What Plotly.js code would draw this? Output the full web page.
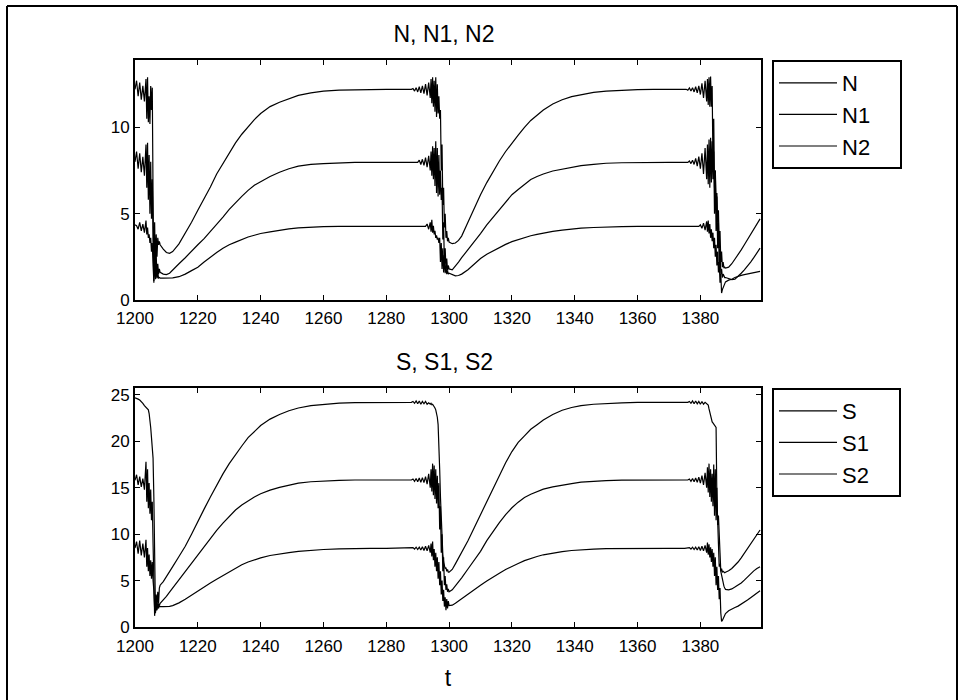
<!DOCTYPE html>
<html><head><meta charset="utf-8">
<script src="https://cdn.plot.ly/plotly-3.0.1.min.js"></script>
<style>html,body{margin:0;padding:0;background:#fff}#chart{width:969px;height:700px}</style>
</head><body><div id="chart"></div>
<script>
// time samples (shared by both panels)
const t = [
1200,1200.5,1201,1201.5,1202,1202.5,1203,1203.5,
1203.75,1204,1204.25,1204.5,1204.75,1205,1205.25,1205.5,1205.75,1206,1206.25,1206.5,1206.75,1207,1207.25,1207.5,1207.75,1208,
1209,1210,1211,1212,1214,1216,1218,1220,1222,1224,1226,1228,1230,1232,1234,1236,1238,1240,1243,1246,1249,1252,1256,1260,1265,1270,1275,1280,1285,1288,
1288.5,1289,1289.5,1290,1290.5,1291,1291.5,1292,1292.5,1293,1293.5,1294,
1294.25,1294.5,1294.75,1295,1295.25,1295.5,1295.75,1296,1296.25,1296.5,1296.75,1297,1297.25,1297.5,1297.75,1298,1298.25,1298.5,1298.75,1299,1299.25,1299.5,1299.75,1300,
1301,1302,1303,1304,1306,1308,1310,1312,1314,1316,1318,1320,1322,1324,1326,1328,1330,1333,1336,1339,1342,1346,1350,1355,1360,1365,1370,1375,
1375.5,1376,1376.5,1377,1377.5,1378,1378.5,1379,1379.5,1380,1380.5,1381,1381.5,1382,
1382.25,1382.5,1382.75,1383,1383.25,1383.5,1383.75,1384,1384.25,1384.5,1384.75,1385,1385.25,1385.5,1385.75,1386,1386.25,1386.5,1386.75,1387,1387.25,1387.5,1387.75,1388,
1389,1390,1391,1392,1393,1394,1395,1396,1397,1398,1399];

const N = [
12.2,12.7,11.8,12.6,11.6,12.4,11.5,12.8,
10.5,12.9,10.3,11.8,10.2,12.4,11.0,12.3,6.0,1.0,4.5,1.8,3.8,2.5,3.6,3.2,3.4,3.2,
2.95,2.75,2.7,2.8,3.25,3.85,4.5,5.2,5.85,6.55,7.3,7.9,8.5,9.1,9.6,10.05,10.45,10.8,11.2,11.45,11.65,11.85,12.0,12.1,12.15,12.18,12.2,12.2,12.2,12.2,
12.25,12.1,12.3,12.05,12.35,12.0,12.4,11.95,12.5,11.85,12.6,11.7,
12.8,11.4,12.9,11.2,12.7,10.9,12.9,10.6,12.5,10.8,11.8,10.5,11.0,7.5,9.0,5.5,6.5,4.2,5.0,3.6,4.0,3.4,3.6,3.35,
3.26,3.3,3.45,3.7,4.5,5.35,6.1,6.8,7.45,8.05,8.6,9.1,9.55,10.0,10.4,10.7,11.0,11.35,11.6,11.78,11.9,12.02,12.1,12.15,12.18,12.2,12.2,12.2,
12.2,12.15,12.28,12.1,12.3,12.05,12.35,12.0,12.4,11.9,12.55,11.7,12.7,11.5,
12.8,11.3,12.9,11.2,12.95,11.2,12.4,8.0,10.5,6.5,7.5,5.8,6.2,4.5,5.2,3.0,4.0,2.2,2.8,1.9,2.2,1.85,1.9,1.85,
1.9,2.1,2.35,2.6,2.9,3.2,3.5,3.85,4.15,4.45,4.7];

const N1 = [
8.0,8.6,7.6,8.5,7.4,8.3,7.2,9.0,
6.5,9.1,5.8,8.4,5.0,8.0,4.7,7.0,3.5,1.4,3.0,1.2,2.6,1.3,2.1,1.5,1.8,1.6,
1.5,1.47,1.55,1.75,2.1,2.45,2.85,3.2,3.55,3.95,4.35,4.8,5.25,5.65,6.0,6.35,6.65,6.85,7.15,7.4,7.6,7.75,7.85,7.9,7.95,7.97,7.97,7.97,7.97,7.97,
7.97,7.97,7.97,7.97,8.1,7.85,8.15,7.8,8.25,7.7,8.35,7.5,
8.6,7.2,8.9,7.0,8.8,6.6,9.2,6.2,8.8,6.0,8.4,6.1,7.5,5.8,6.5,3.5,4.5,2.0,3.0,1.8,2.4,1.7,2.0,1.8,
1.75,1.95,2.2,2.45,2.9,3.35,3.85,4.35,4.8,5.25,5.7,6.1,6.4,6.7,6.98,7.15,7.3,7.47,7.58,7.68,7.78,7.86,7.92,7.95,7.97,7.97,7.97,7.97,
7.97,7.97,8.05,7.9,8.1,7.85,8.2,7.75,8.3,7.6,8.5,7.3,8.8,7.0,
9.0,6.7,9.3,6.5,9.4,6.8,9.2,7.0,8.6,5.0,7.5,4.0,6.0,3.0,4.5,2.0,3.0,1.5,1.8,1.3,1.5,1.35,1.3,1.3,
1.22,1.18,1.2,1.35,1.55,1.75,1.95,2.2,2.45,2.72,3.0];

const N2 = [
4.35,4.3,4.1,4.5,4.0,4.4,3.9,4.6,
3.8,4.2,3.6,3.8,3.3,3.6,2.8,3.3,2.0,1.1,2.2,1.3,1.9,1.25,1.6,1.27,1.3,1.27,
1.27,1.27,1.27,1.28,1.35,1.5,1.7,1.9,2.2,2.5,2.75,3.0,3.2,3.35,3.5,3.65,3.75,3.85,3.95,4.05,4.12,4.18,4.22,4.25,4.26,4.26,4.26,4.26,4.26,4.26,
4.26,4.26,4.26,4.26,4.26,4.26,4.26,4.26,4.26,4.4,4.1,4.5,
3.95,4.65,3.9,4.3,3.8,4.0,3.6,3.75,3.5,3.6,3.3,3.6,2.2,3.3,1.8,3.0,1.6,2.6,1.55,2.0,1.5,1.7,1.5,1.55,
1.45,1.4,1.42,1.5,1.75,2.1,2.4,2.65,2.85,3.05,3.22,3.38,3.5,3.62,3.72,3.8,3.88,3.97,4.05,4.11,4.16,4.2,4.23,4.25,4.26,4.26,4.26,4.26,
4.26,4.26,4.26,4.26,4.26,4.26,4.26,4.26,4.26,4.35,4.15,4.45,4.05,4.55,
3.95,4.6,3.85,4.4,3.6,4.1,3.4,3.9,3.0,3.6,2.5,3.2,2.0,2.8,1.6,2.2,1.0,1.5,0.4,0.6,0.7,0.85,0.95,1.05,
1.15,1.2,1.3,1.38,1.43,1.47,1.5,1.53,1.57,1.61,1.66];

const S = [
24.7,24.65,24.55,24.45,24.3,24.1,23.85,23.65,
23.6,23.55,23.4,23.0,22.4,21.5,20.4,19.3,18.2,14.0,8.0,2.0,3.5,2.2,3.8,2.5,4.2,4.5,
4.9,5.4,6.0,6.5,7.6,8.7,10.0,11.4,12.7,14.0,15.3,16.5,17.6,18.6,19.5,20.4,21.1,21.7,22.4,22.9,23.3,23.6,23.85,24.0,24.12,24.18,24.2,24.2,24.2,24.2,
24.3,24.1,24.35,24.05,24.35,24.0,24.3,24.05,24.3,24.0,24.15,24.0,
24.1,23.95,24.0,23.9,23.8,23.6,23.4,23.1,22.6,21.8,20.0,17.0,14.0,11.5,9.0,7.8,7.0,6.7,6.3,6.4,6.0,6.2,5.9,5.9,
6.2,6.8,7.4,8.0,9.3,10.7,12.1,13.5,14.9,16.4,17.7,18.9,19.9,20.6,21.3,21.8,22.3,22.9,23.35,23.65,23.85,24.0,24.1,24.15,24.2,24.2,24.2,24.2,
24.2,24.2,24.3,24.1,24.35,24.05,24.35,24.05,24.3,24.0,24.3,24.0,24.2,24.0,
24.0,23.9,23.5,23.1,22.6,22.3,22.1,22.0,21.9,21.8,21.7,21.5,14.0,11.0,8.0,6.5,6.8,6.0,6.3,5.9,6.0,5.85,5.85,5.9,
6.05,6.3,6.6,7.0,7.45,7.95,8.5,9.05,9.55,10.0,10.45];

const S1 = [
15.8,16.4,15.3,16.2,15.1,16.0,14.8,17.8,
13.5,17.0,12.8,15.5,12.2,14.8,11.5,13.5,9.0,5.0,1.2,3.0,1.8,2.6,2.0,2.5,2.3,2.55,
2.9,3.3,3.75,4.2,5.1,5.95,6.8,7.7,8.6,9.5,10.4,11.2,11.95,12.6,13.15,13.6,14.0,14.35,14.75,15.05,15.3,15.5,15.65,15.75,15.8,15.84,15.84,15.84,15.84,15.84,
15.95,15.7,16.0,15.65,16.05,15.6,16.1,15.55,16.2,15.4,16.5,15.0,
17.0,14.6,17.6,14.2,17.4,13.8,17.0,13.3,16.3,12.8,15.5,10.5,13.0,8.0,10.0,6.0,7.5,4.5,5.5,4.0,4.6,3.8,4.1,3.8,
4.0,4.4,4.85,5.3,6.25,7.2,8.15,9.3,10.3,11.25,12.1,12.85,13.45,13.95,14.3,14.6,14.85,15.1,15.3,15.45,15.6,15.7,15.77,15.82,15.84,15.84,15.84,15.84,
15.84,15.84,15.95,15.7,16.0,15.65,16.05,15.6,16.15,15.5,16.3,15.3,16.6,15.0,
17.2,14.5,17.6,14.0,17.0,13.5,16.5,13.0,17.5,12.0,17.0,11.5,15.0,11.0,12.0,9.0,8.0,6.0,5.5,5.0,4.6,4.4,4.2,4.05,
4.0,4.1,4.3,4.5,4.75,5.05,5.4,5.75,6.05,6.3,6.5];

const S2 = [
8.5,9.2,7.9,9.3,7.7,9.0,7.5,9.4,
6.5,8.5,6.0,7.8,5.5,7.2,5.2,7.0,5.0,4.0,2.0,1.5,2.3,1.8,2.5,2.0,2.3,2.2,
2.2,2.2,2.22,2.3,2.6,3.0,3.45,3.9,4.35,4.75,5.15,5.55,5.95,6.35,6.7,7.0,7.25,7.45,7.7,7.88,8.02,8.15,8.27,8.35,8.42,8.48,8.48,8.48,8.48,8.48,
8.55,8.4,8.6,8.35,8.6,8.3,8.65,8.25,8.7,8.2,8.8,8.0,
9.0,7.6,9.2,7.2,8.4,6.5,8.0,6.0,7.5,5.2,7.0,4.5,6.0,3.5,5.0,2.8,4.0,2.2,3.2,1.8,3.0,2.0,2.8,2.3,
2.35,2.55,2.8,3.05,3.55,4.05,4.5,4.95,5.4,5.8,6.2,6.55,6.85,7.15,7.4,7.6,7.78,7.97,8.12,8.24,8.32,8.4,8.44,8.47,8.48,8.48,8.48,8.48,
8.48,8.48,8.55,8.4,8.6,8.35,8.6,8.3,8.65,8.25,8.7,8.2,8.8,8.0,
9.1,7.8,8.9,7.5,8.6,7.0,8.4,6.5,8.0,5.5,7.5,4.5,6.5,4.0,5.5,3.0,4.2,1.5,0.6,0.7,0.9,1.1,1.3,1.45,
1.75,1.95,2.1,2.25,2.45,2.65,2.9,3.15,3.4,3.65,3.9];

const xTicks = [1200,1220,1240,1260,1280,1300,1320,1340,1360,1380];
const yTicksN = [0,5,10];
const yTicksS = [0,5,10,15,20,25];
const namesN = ['N','N1','N2'];
const namesS = ['S','S1','S2'];
const titleN = 'N, N1, N2';
const titleS = 'S, S1, S2';
const xLabel = 't';

[N,N1,N2,S,S1,S2].forEach((a,i)=>{ if(a.length!==t.length) throw new Error('length mismatch series '+i+': '+a.length+' vs '+t.length); });

const W = 969, H = 700;
const px = v => v / W, py = v => 1 - v / H;
const FONT = 'Liberation Sans, Arial, Helvetica, sans-serif';
const lineStyle = {color:'#000', width:1.2};
const PAD = '\u00a0\u00a0\u00a0\u00a0'; // widens the legend box like the reference

const traces = [];
[N,N1,N2].forEach((y,i)=>traces.push({x:t, y:y, name:namesN[i] + PAD, type:'scatter', mode:'lines', line:lineStyle, xaxis:'x', yaxis:'y', legend:'legend'}));
[S,S1,S2].forEach((y,i)=>traces.push({x:t, y:y, name:namesS[i] + PAD, type:'scatter', mode:'lines', line:lineStyle, xaxis:'x2', yaxis:'y2', legend:'legend2'}));

const axBase = {
  showgrid:false, zeroline:false, showline:true, linecolor:'#000', linewidth:2,
  mirror:'ticks', ticks:'inside', ticklen:5, tickwidth:1, tickcolor:'#000',
  tickfont:{family:FONT, size:17, color:'#000'}, fixedrange:true
};
const xdom = [px(135), px(761)];

const legBase = {
  bgcolor:'#fff', bordercolor:'#000', borderwidth:2,
  font:{family:FONT, size:22, color:'#000'},
  xanchor:'left', yanchor:'top', itemwidth:58, traceorder:'normal'
};

const layout = {
  width:W, height:H, margin:{l:0,r:0,t:0,b:0},
  paper_bgcolor:'#fff', plot_bgcolor:'#fff', showlegend:true,
  font:{family:FONT, color:'#000'},
  title:{text:titleN, x:px(444), y:py(33.5), xanchor:'center', yanchor:'middle', xref:'paper', yref:'paper', font:{family:FONT, size:23, color:'#000'}},
  xaxis:Object.assign({}, axBase, {domain:xdom, anchor:'y', range:[1200,1399.3], tickvals:xTicks, ticklabelstandoff:2}),
  yaxis:Object.assign({}, axBase, {domain:[py(300), py(60)], anchor:'x', range:[0,13.9], tickvals:yTicksN}),
  xaxis2:Object.assign({}, axBase, {domain:xdom, anchor:'y2', range:[1200,1399.3], tickvals:xTicks, ticklabelstandoff:3,
    title:{text:xLabel, font:{family:FONT, size:23, color:'#000'}, standoff:14}}),
  yaxis2:Object.assign({}, axBase, {domain:[py(627), py(388)], anchor:'x2', range:[0,25.75], tickvals:yTicksS}),
  legend:Object.assign({}, legBase, {x:px(772), y:py(60)}),
  legend2:Object.assign({}, legBase, {x:px(772), y:py(388)}),
  annotations:[
    {text:titleS, x:px(444), y:py(361.5), xref:'paper', yref:'paper', xanchor:'center', yanchor:'middle', showarrow:false, font:{family:FONT, size:23, color:'#000'}}
  ],
  shapes:[
    {type:'line', xref:'paper', yref:'paper', x0:px(7), x1:px(7), y0:0, y1:py(6), line:{color:'#000', width:2}},
    {type:'line', xref:'paper', yref:'paper', x0:px(7), x1:px(957), y0:py(6), y1:py(6), line:{color:'#000', width:2}},
    {type:'line', xref:'paper', yref:'paper', x0:px(957), x1:px(957), y0:0, y1:py(6), line:{color:'#000', width:2}}
  ]
};

Plotly.newPlot('chart', traces, layout, {displayModeBar:false, staticPlot:true});
</script>
</body></html>
